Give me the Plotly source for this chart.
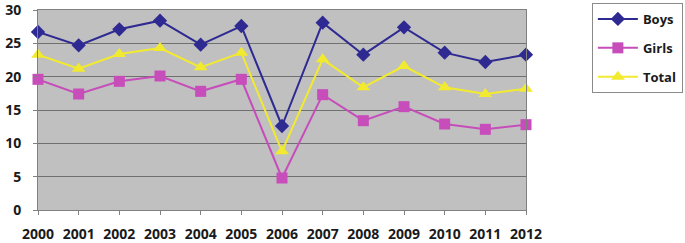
import plotly.graph_objects as go

years = [2000, 2001, 2002, 2003, 2004, 2005, 2006, 2007, 2008, 2009, 2010, 2011, 2012]
boys = [26.7, 24.7, 27.1, 28.4, 24.8, 27.6, 12.6, 28.1, 23.3, 27.4, 23.6, 22.2, 23.3]
girls = [19.6, 17.4, 19.3, 20.1, 17.8, 19.6, 4.8, 17.3, 13.4, 15.5, 12.9, 12.1, 12.8]
total = [23.3, 21.2, 23.4, 24.3, 21.4, 23.6, 8.8, 22.6, 18.4, 21.6, 18.4, 17.4, 18.2]
ytickvals = [0, 5, 10, 15, 20, 25, 30]

font = dict(family="Open Sans", size=14, color="#1a1a1a")

fig = go.Figure()
fig.add_trace(go.Scatter(x=years, y=boys, name="<b>Boys</b>", mode="lines+markers",
                         legendgroup="b",
                         line=dict(color="#2E2A92", width=2),
                         marker=dict(symbol="diamond", size=11, color="#2E2A92"),
                         cliponaxis=False))
fig.add_trace(go.Scatter(x=years, y=girls, name="<b>Girls</b>", mode="lines+markers",
                         legendgroup="g",
                         line=dict(color="#C64DBA", width=2),
                         marker=dict(symbol="square", size=11, color="#C64DBA"),
                         cliponaxis=False))
fig.add_trace(go.Scatter(x=years, y=total, name="<b>Total</b>", mode="lines+markers",
                         legendgroup="t",
                         line=dict(color="#F2EA2E", width=2),
                         marker=dict(symbol="triangle-up", size=12, color="#F2EA2E"),
                         cliponaxis=False))

fig.update_layout(
    width=685, height=243,
    margin=dict(l=38, r=159, t=10, b=33, autoexpand=False),
    paper_bgcolor="white",
    plot_bgcolor="#C0C0C0",
    font=font,
    showlegend=True,
    legend=dict(x=1.135, y=1.035, xanchor="left", yanchor="top",
                bgcolor="white", bordercolor="#8a8a8a", borderwidth=1,
                font=dict(family="Open Sans", size=13, color="#1a1a1a"),
                traceorder="grouped", tracegroupgap=9, itemwidth=40),
)
fig.update_xaxes(range=[2000, 2012], tickvals=years, ticktext=[f"<b>{y}</b>" for y in years],
                 showgrid=False, zeroline=False, showline=True, linecolor="#808080", linewidth=1,
                 mirror=True, ticks="outside", ticklen=4, tickcolor="#808080",
                 ticklabelstandoff=7, ticklabeloverflow="allow")
fig.update_yaxes(range=[0, 30], tickvals=ytickvals, ticktext=[f"<b>{v}</b>" for v in ytickvals],
                 showgrid=True, gridcolor="#707070", gridwidth=1, zeroline=False,
                 showline=True, linecolor="#808080", linewidth=1, mirror=True,
                 ticks="outside", ticklen=4, tickcolor="#808080",
                 ticklabelstandoff=9, ticklabeloverflow="allow")

fig.write_html("out.html", config={"displayModeBar": False},
               post_script="document.body.style.margin='0';document.body.style.overflow='hidden';")
